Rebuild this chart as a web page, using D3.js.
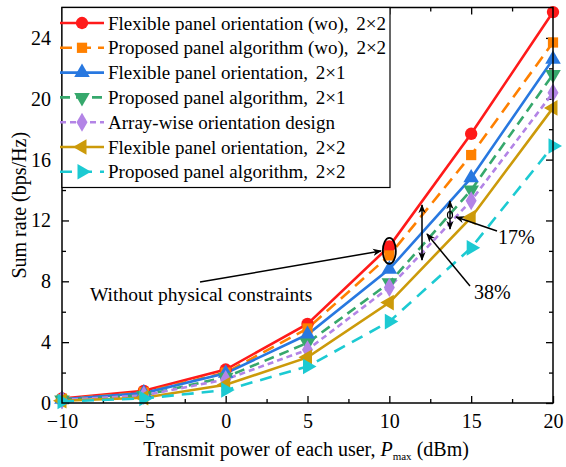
<!DOCTYPE html>
<html>
<head>
<meta charset="UTF-8">
<style>
  body { margin: 0; background: #fff; }
  svg { display: block; font-family: "Liberation Serif", "DejaVu Serif", serif; }
</style>
</head>
<body>
<svg></svg>
<script src="https://d3js.org/d3.v7.min.js"></script>
<script>

// data
let power = [-10, -5, 0, 5, 10, 15, 20];
let seriesNames = [
  "Flexible panel orientation (wo), ",
  "Proposed panel algorithm (wo), ",
  "Flexible panel orientation, ",
  "Proposed panel algorithm, ",
  "Array-wise orientation design",
  "Flexible panel orientation, ",
  "Proposed panel algorithm, "
];
let seriesSuffix = ["2\u00d72", "2\u00d72", "2\u00d71", "2\u00d71", "", "2\u00d72", "2\u00d72"];
let flexWo22  = [0.3, 0.8, 2.2, 5.2, 10.3, 17.7, 25.7];
let propWo22  = [0.25, 0.7, 2.0, 4.9, 9.7, 16.3, 23.7];
let flex21    = [0.25, 0.65, 1.95, 4.5, 8.8, 14.8, 22.6];
let prop21    = [0.2, 0.5, 1.7, 3.95, 7.9, 14.0, 21.6];
let arrayWise = [0.2, 0.5, 1.55, 3.5, 7.6, 13.3, 20.4];
let flex22    = [0.15, 0.35, 1.2, 3.0, 6.6, 12.2, 19.4];
let prop22    = [0.1, 0.3, 0.85, 2.4, 5.35, 10.2, 16.9];
let xTicks = [-10, -5, 0, 5, 10, 15, 20];
let yTicks = [0, 4, 8, 12, 16, 20, 24];

let allValues = [flexWo22, propWo22, flex21, prop21, arrayWise, flex22, prop22];
let colors = ["#ff1a1a", "#ff8000", "#2878e0", "#36a86c", "#b384e6", "#cc9a0a", "#1ccad2"];
let dashes = [null, "12,7", null, "10,6", "6,4", null, "12,8"];
let shapes = [d3.symbolCircle, d3.symbolSquare, d3.symbolTriangle, d3.symbolTriangle, d3.symbolDiamond, d3.symbolTriangle, d3.symbolTriangle];
let rotations = [0, 0, 0, 180, 0, -90, 90];

let width = 566, height = 467;
let margin = {left: 62, right: 13, top: 7.5, bottom: 64};

let svg = d3.select("svg").attr("width", width).attr("height", height);

let x = d3.scaleLinear().domain([-10, 20]).range([margin.left, width - margin.right]);
let y = d3.scaleLinear().domain([0, 26]).range([height - margin.bottom, margin.top]);

let x0 = x.range()[0], x1 = x.range()[1];
let y0 = y.range()[0], y1 = y.range()[1];

// axes, ticks pointing in
let xMinor = d3.range(-7.5, 20, 5);
let yMinor = d3.range(2, 26, 4);

function tickGroup(g, axis) {
  g.call(axis);
  g.attr("font-family", null).attr("font-size", 20);
  g.select(".domain").remove();
  g.selectAll(".tick line").attr("stroke", "#000").attr("stroke-width", 1.3);
  g.selectAll(".tick text").attr("fill", "#000");
}

svg.append("g").attr("transform", `translate(0,${y0})`)
  .call(g => tickGroup(g, d3.axisBottom(x).tickValues(xTicks).tickSizeInner(-7).tickSizeOuter(0).tickPadding(11)));
svg.append("g").attr("transform", `translate(0,${y0})`)
  .call(g => tickGroup(g, d3.axisBottom(x).tickValues(xMinor).tickSizeInner(-4).tickFormat("")));
svg.append("g").attr("transform", `translate(0,${y1})`)
  .call(g => tickGroup(g, d3.axisTop(x).tickValues(xTicks).tickSizeInner(-7).tickFormat("")));
svg.append("g").attr("transform", `translate(0,${y1})`)
  .call(g => tickGroup(g, d3.axisTop(x).tickValues(xMinor).tickSizeInner(-4).tickFormat("")));

svg.append("g").attr("transform", `translate(${x0},0)`)
  .call(g => tickGroup(g, d3.axisLeft(y).tickValues(yTicks).tickSizeInner(-7).tickSizeOuter(0).tickPadding(11)));
svg.append("g").attr("transform", `translate(${x0},0)`)
  .call(g => tickGroup(g, d3.axisLeft(y).tickValues(yMinor).tickSizeInner(-4).tickFormat("")));
svg.append("g").attr("transform", `translate(${x1},0)`)
  .call(g => tickGroup(g, d3.axisRight(y).tickValues(yTicks).tickSizeInner(-7).tickFormat("")));
svg.append("g").attr("transform", `translate(${x1},0)`)
  .call(g => tickGroup(g, d3.axisRight(y).tickValues(yMinor).tickSizeInner(-4).tickFormat("")));

// lines
let line = d3.line().x((d, i) => x(power[i])).y(d => y(d));

let series = svg.append("g");
allValues.forEach((vals, k) => {
  series.append("path")
    .attr("d", line(vals))
    .attr("fill", "none")
    .attr("stroke", colors[k])
    .attr("stroke-width", 2.6)
    .attr("stroke-dasharray", dashes[k]);
});
allValues.forEach((vals, k) => {
  series.selectAll(null)
    .data(vals)
    .enter().append("path")
    .attr("d", d3.symbol().type(shapes[k]).size(k == 0 ? 120 : 105))
    .attr("transform", (d, i) => `translate(${x(power[i])},${y(d)}) rotate(${rotations[k]})`)
    .attr("fill", colors[k]);
});

// frame
svg.append("rect")
  .attr("x", x0).attr("y", y1)
  .attr("width", x1 - x0).attr("height", y0 - y1)
  .attr("fill", "none").attr("stroke", "#000").attr("stroke-width", 1.5);

// legend
let legend = svg.append("g");
legend.append("rect")
  .attr("x", x0).attr("y", y1)
  .attr("width", 328).attr("height", 180)
  .attr("fill", "#fff").attr("stroke", "#000").attr("stroke-width", 1.2);

seriesNames.forEach((name, k) => {
  let ly = 23 + k * 24.8;
  legend.append("line")
    .attr("x1", 60).attr("x2", 104).attr("y1", ly).attr("y2", ly)
    .attr("stroke", colors[k]).attr("stroke-width", 2.6)
    .attr("stroke-dasharray", dashes[k]);
  legend.append("path")
    .attr("d", d3.symbol().type(shapes[k]).size(k == 0 ? 120 : 105))
    .attr("transform", `translate(82,${ly}) rotate(${rotations[k]})`)
    .attr("fill", colors[k]);
  let t = legend.append("text")
    .attr("x", 108).attr("y", ly + 6.5)
    .attr("font-size", 19).attr("fill", "#000")
    .attr("xml:space", "preserve");
  t.append("tspan").text(name);
  if (seriesSuffix[k]) t.append("tspan").attr("dx", 3).text(seriesSuffix[k]);
});

// axis titles
svg.append("text")
  .attr("transform", `translate(26,${(y0 + y1) / 2}) rotate(-90)`)
  .attr("text-anchor", "middle")
  .attr("font-size", 20)
  .text("Sum rate (bps/Hz)");

let xt = svg.append("text")
  .attr("x", 306).attr("y", 456)
  .attr("text-anchor", "middle")
  .attr("font-size", 20);
xt.append("tspan").text("Transmit power of each user, ");
xt.append("tspan").attr("font-style", "italic").text("P");
xt.append("tspan").attr("font-size", 11).attr("dy", 4).text("max");
xt.append("tspan").attr("dy", -4).text(" (dBm)");

// annotations
let defs = svg.append("defs");
defs.append("marker")
  .attr("id", "ah").attr("viewBox", "0 0 10 10")
  .attr("refX", 9).attr("refY", 5)
  .attr("markerWidth", 9).attr("markerHeight", 9)
  .attr("markerUnits", "userSpaceOnUse")
  .attr("orient", "auto-start-reverse")
  .append("path").attr("d", "M0,1 L10,5 L0,9 L3,5 Z").attr("fill", "#000");

let ann = svg.append("g").attr("stroke", "#000").attr("stroke-width", 1.5).attr("fill", "none");

svg.append("text").attr("x", 90).attr("y", 301).attr("font-size", 19.5).text("Without physical constraints");
ann.append("line").attr("x1", 200).attr("y1", 282).attr("x2", 381).attr("y2", 251).attr("marker-end", "url(#ah)");
ann.append("ellipse").attr("cx", x(10)).attr("cy", y(10)).attr("rx", 6.5).attr("ry", 13).attr("stroke-width", 1.8);

// 38% gap
ann.append("line").attr("x1", 422).attr("y1", 205).attr("x2", 422).attr("y2", 260)
  .attr("marker-start", "url(#ah)").attr("marker-end", "url(#ah)");
ann.append("line").attr("x1", 470).attr("y1", 286).attr("x2", 427).attr("y2", 234).attr("marker-end", "url(#ah)");
svg.append("text").attr("x", 474).attr("y", 299).attr("font-size", 20).text("38%");

// 17% gap
ann.append("line").attr("x1", 450).attr("y1", 201).attr("x2", 450).attr("y2", 229)
  .attr("marker-start", "url(#ah)").attr("marker-end", "url(#ah)");
ann.append("ellipse").attr("cx", 450).attr("cy", 215).attr("rx", 2.5).attr("ry", 3.5).attr("stroke-width", 1.2);
ann.append("line").attr("x1", 497).attr("y1", 231).attr("x2", 456).attr("y2", 217).attr("marker-end", "url(#ah)");
svg.append("text").attr("x", 498).attr("y", 244).attr("font-size", 20).text("17%");

</script>
</body>
</html>
